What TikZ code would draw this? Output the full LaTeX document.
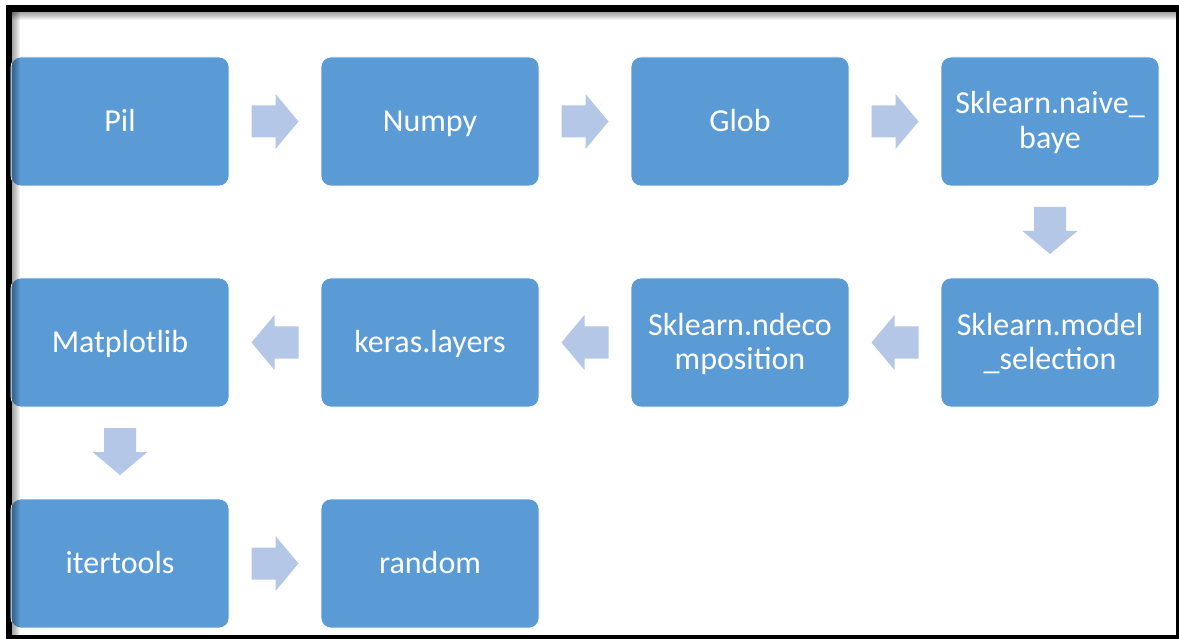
\documentclass[tikz,border=0pt]{standalone}
\usepackage{fontspec}
\setmainfont{Carlito}
\usetikzlibrary{calc}

\definecolor{boxblue}{HTML}{5B9BD5}
\definecolor{arrowblue}{HTML}{B4C7E7}

% line strut that centres capitals on the node centre
\newcommand{\capstrut}{\rule[-7.5pt]{0pt}{35pt}}

\tikzset{
  stage/.style={
    fill=boxblue, draw=white, line width=0.6pt, rounded corners=10pt,
    minimum width=218pt, minimum height=129pt, inner sep=0pt,
    text=white, align=center,
    font=\fontsize{32}{35}\selectfont
  },
  flowarrow/.pic={
    \fill[arrowblue] (-23.5,-16) -- (0.5,-16) -- (0.5,-27.5) -- (23.5,0)
      -- (0.5,27.5) -- (0.5,16) -- (-23.5,16) -- cycle;
  }
}

\begin{document}
\begin{tikzpicture}[x=1pt,y=-1pt]
  \useasboundingbox (0,0) rectangle (1179,639);

  % page frame
  \fill[black] (6,5) rectangle (1179,639);
  \fill[white] (12,12) rectangle (1176,635);

  % the stages
  \node[stage] (pil)   at (120,121.5) {\capstrut Pil};
  \node[stage] (numpy) at (430,121.5) {\capstrut Numpy};
  \node[stage] (glob)  at (740,121.5) {\capstrut Glob};
  \node[stage] (nb)    at (1050,121.5) {\capstrut Sklearn.naive\_\\\capstrut baye};
  \node[stage] (ms)    at (1050,342.5) {\capstrut Sklearn.model\\\capstrut\_selection};
  \node[stage] (dec)   at (740,342.5) {\capstrut Sklearn.ndeco\\\capstrut mposition};
  \node[stage] (keras) at (430,342.5) {\capstrut keras.layers};
  \node[stage] (mpl)   at (120,342.5) {\capstrut Matplotlib};
  \node[stage] (iter)  at (120,563.5) {\capstrut itertools};
  \node[stage] (rnd)   at (430,563.5) {\capstrut random};

  % block arrows between consecutive stages
  \pic at ($(pil.east)!0.5!(numpy.west)$) {flowarrow};
  \pic at ($(numpy.east)!0.5!(glob.west)$) {flowarrow};
  \pic at ($(glob.east)!0.5!(nb.west)$) {flowarrow};
  \pic[rotate=-90] at ($(nb.south)!0.5!(ms.north)+(0,-1.5)$) {flowarrow};
  \pic[rotate=180] at ($(ms.west)!0.5!(dec.east)$) {flowarrow};
  \pic[rotate=180] at ($(dec.west)!0.5!(keras.east)$) {flowarrow};
  \pic[rotate=180] at ($(keras.west)!0.5!(mpl.east)$) {flowarrow};
  \pic[rotate=-90] at ($(mpl.south)!0.5!(iter.north)+(0,-1.5)$) {flowarrow};
  \pic at ($(iter.east)!0.5!(rnd.west)$) {flowarrow};

  % soft inner shadow along the top and left edges of the frame
  \foreach \k in {1,...,8} {
    \fill[black,opacity=0.05] (12,12) rectangle (1176,12+\k);
    \fill[black,opacity=0.05] (12,12) rectangle (12+\k,635);
  }
\end{tikzpicture}
\end{document}
